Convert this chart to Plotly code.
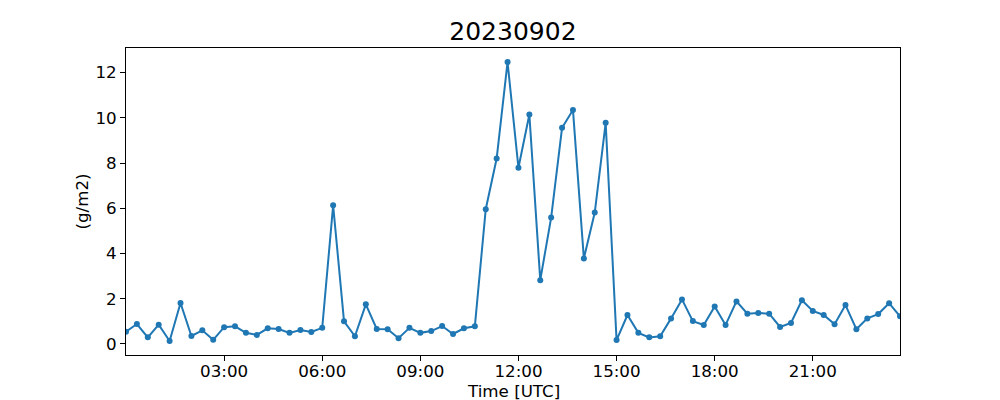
import pandas as pd
import plotly.graph_objects as go

title = "20230902"
x_title = "Time [UTC]"
y_title = "(g/m2)"
times = pd.date_range("2023-09-02 00:00", periods=72, freq="20min")
values = [
    0.54, 0.88, 0.29, 0.85, 0.13, 1.81, 0.35, 0.60, 0.18, 0.74,
    0.78, 0.49, 0.40, 0.69, 0.66, 0.49, 0.62, 0.53, 0.71, 6.13,
    1.00, 0.34, 1.75, 0.66, 0.65, 0.25, 0.71, 0.49, 0.57, 0.79,
    0.44, 0.69, 0.78, 5.96, 8.20, 12.47, 7.79, 10.15, 2.82, 5.59,
    9.56, 10.35, 3.78, 5.81, 9.78, 0.17, 1.28, 0.49, 0.29, 0.34,
    1.13, 1.97, 1.01, 0.84, 1.66, 0.84, 1.88, 1.34, 1.37, 1.34,
    0.75, 0.93, 1.93, 1.46, 1.28, 0.87, 1.72, 0.65, 1.13, 1.32,
    1.80, 1.22,
]
tick_times = ["2023-09-02 03:00", "2023-09-02 06:00", "2023-09-02 09:00",
              "2023-09-02 12:00", "2023-09-02 15:00", "2023-09-02 18:00",
              "2023-09-02 21:00"]
tick_labels = ["03:00", "06:00", "09:00", "12:00", "15:00", "18:00", "21:00"]
y_ticks = [0, 2, 4, 6, 8, 10, 12]

font = "DejaVu Sans"
fig = go.Figure(go.Scatter(
    x=times, y=values, mode="lines+markers",
    line=dict(color="#1f77b4", width=2),
    marker=dict(color="#1f77b4", size=6),
))

axis_common = dict(
    showline=True, linecolor="black", linewidth=1, mirror=True,
    ticks="outside", ticklen=5, tickwidth=1, tickcolor="black",
    showgrid=False, zeroline=False, automargin=False,
    tickfont=dict(family=font, size=16.7, color="black"),
)
fig.update_layout(
    width=992, height=392,
    paper_bgcolor="white", plot_bgcolor="white",
    margin=dict(l=118, r=100, t=40, b=45),
    title=dict(text=title, x=0.509, xanchor="center", y=0.941, yanchor="middle",
               font=dict(family=font, size=25, color="black")),
    showlegend=False,
    xaxis=dict(
        range=[times[0], times[-1]],
        tickvals=tick_times, ticktext=tick_labels,
        ticklabelstandoff=-4,
        **axis_common,
    ),
    yaxis=dict(
        range=[-0.49, 13.09],
        tickvals=y_ticks,
        **axis_common,
    ),
    annotations=[
        dict(text=x_title, xref="paper", yref="paper", x=0.5, y=0,
             xanchor="center", yanchor="middle", yshift=-36, showarrow=False,
             font=dict(family=font, size=16.7, color="black")),
        dict(text=y_title, xref="paper", yref="paper", x=0, y=0.5,
             xanchor="center", yanchor="middle", xshift=-45, textangle=-90,
             showarrow=False, font=dict(family=font, size=16.7, color="black")),
    ],
)
fig.write_html("out.html")
